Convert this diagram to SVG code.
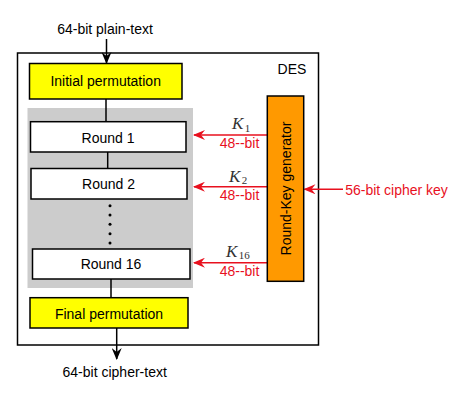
<svg xmlns="http://www.w3.org/2000/svg" width="474" height="402" viewBox="0 0 474 402">
<style>
.t{font-family:"Liberation Sans",Arial,sans-serif;font-size:14px;fill:#000;text-anchor:middle}
.r{font-family:"Liberation Sans",Arial,sans-serif;font-size:14px;fill:#e8101e;text-anchor:middle}
.k{font-family:"Liberation Serif","Times New Roman",serif;font-size:17px;font-style:italic;fill:#333}
.ks{font-family:"Liberation Serif","Times New Roman",serif;font-size:11px;font-style:normal;fill:#333}
.box{stroke:#000;stroke-width:1.5}
.ln{stroke:#000;stroke-width:1.5;fill:none}
.rl{stroke:#e8101e;stroke-width:1.5;fill:none}
</style>
<defs>
<marker id="ab" viewBox="0 0 12 10" refX="11" refY="5" markerWidth="12" markerHeight="10" markerUnits="userSpaceOnUse" orient="auto">
<path d="M0,0 L12,5 L0,10 L4,5 Z" fill="#000"/>
</marker>
<marker id="ar" viewBox="0 0 12 10" refX="11" refY="5" markerWidth="12" markerHeight="10" markerUnits="userSpaceOnUse" orient="auto">
<path d="M0,0 L12,5 L0,10 L4,5 Z" fill="#e8101e"/>
</marker>
</defs>
<rect width="474" height="402" fill="#fff"/>
<g id="des">
<rect x="17.5" y="53" width="301" height="292" fill="#fff" class="box"/>
<text x="292" y="73.5" class="t">DES</text>
</g>
<g id="rounds-area">
<rect x="27.5" y="108" width="165.5" height="180" fill="#cccccc"/>
</g>
<g id="connectors">
<line x1="106.5" y1="39" x2="106.5" y2="63" class="ln" marker-end="url(#ab)"/>
<line x1="106" y1="99" x2="106" y2="121.7" class="ln"/>
<line x1="107.7" y1="152" x2="107.7" y2="168.5" class="ln"/>
<line x1="111" y1="279" x2="111" y2="297.7" class="ln"/>
<line x1="116.7" y1="328" x2="116.7" y2="359" class="ln" marker-end="url(#ab)"/>
<line x1="267.3" y1="135" x2="194" y2="135" class="rl" marker-end="url(#ar)"/>
<line x1="267.3" y1="186.7" x2="194" y2="186.7" class="rl" marker-end="url(#ar)"/>
<line x1="267.3" y1="262.7" x2="194" y2="262.7" class="rl" marker-end="url(#ar)"/>
<line x1="343" y1="189.3" x2="304.5" y2="189.3" class="rl" marker-end="url(#ar)"/>
</g>
<g id="dots" fill="#000">
<circle cx="110" cy="205.7" r="1.5"/>
<circle cx="110" cy="215" r="1.5"/>
<circle cx="110" cy="224.3" r="1.5"/>
<circle cx="110" cy="233.7" r="1.5"/>
<circle cx="110" cy="243" r="1.5"/>
</g>
<g id="initial-permutation">
<rect x="29.5" y="63.5" width="152.5" height="35.5" fill="#ffff00" class="box"/>
<text x="105.7" y="86" class="t">Initial permutation</text>
</g>
<g id="round1">
<rect x="30.5" y="121.7" width="155.5" height="30.3" fill="#fff" class="box"/>
<text x="108" y="142.5" class="t">Round 1</text>
</g>
<g id="round2">
<rect x="31" y="168.5" width="156" height="30.5" fill="#fff" class="box"/>
<text x="108.5" y="189" class="t">Round 2</text>
</g>
<g id="round16">
<rect x="32.5" y="249" width="157.5" height="30" fill="#fff" class="box"/>
<text x="111" y="269.3" class="t">Round 16</text>
</g>
<g id="final-permutation">
<rect x="30" y="297.7" width="158" height="30.3" fill="#ffff00" class="box"/>
<text x="109" y="319" class="t">Final permutation</text>
</g>
<g id="round-key-generator">
<rect x="267.3" y="96" width="36.4" height="185.3" fill="#ff9900" class="box"/>
<text x="0" y="0" class="t" transform="translate(290.5,188.5) rotate(-90)">Round-Key generator</text>
</g>
<g id="labels">
<text x="105" y="34" class="t">64-bit plain-text</text>
<text x="114.7" y="376.7" class="t">64-bit cipher-text</text>
<text x="396.5" y="195" class="r">56-bit cipher key</text>
<text x="239.5" y="148" class="r">48--bit</text>
<text x="239.5" y="200" class="r">48--bit</text>
<text x="239.5" y="276" class="r">48--bit</text>
<text x="232" y="129" class="k">K<tspan class="ks" dx="1.5" dy="2.5">1</tspan></text>
<text x="229" y="181.7" class="k">K<tspan class="ks" dx="1.5" dy="2.5">2</tspan></text>
<text x="226" y="256.7" class="k">K<tspan class="ks" dx="1.5" dy="2.5">16</tspan></text>
</g>
</svg>
